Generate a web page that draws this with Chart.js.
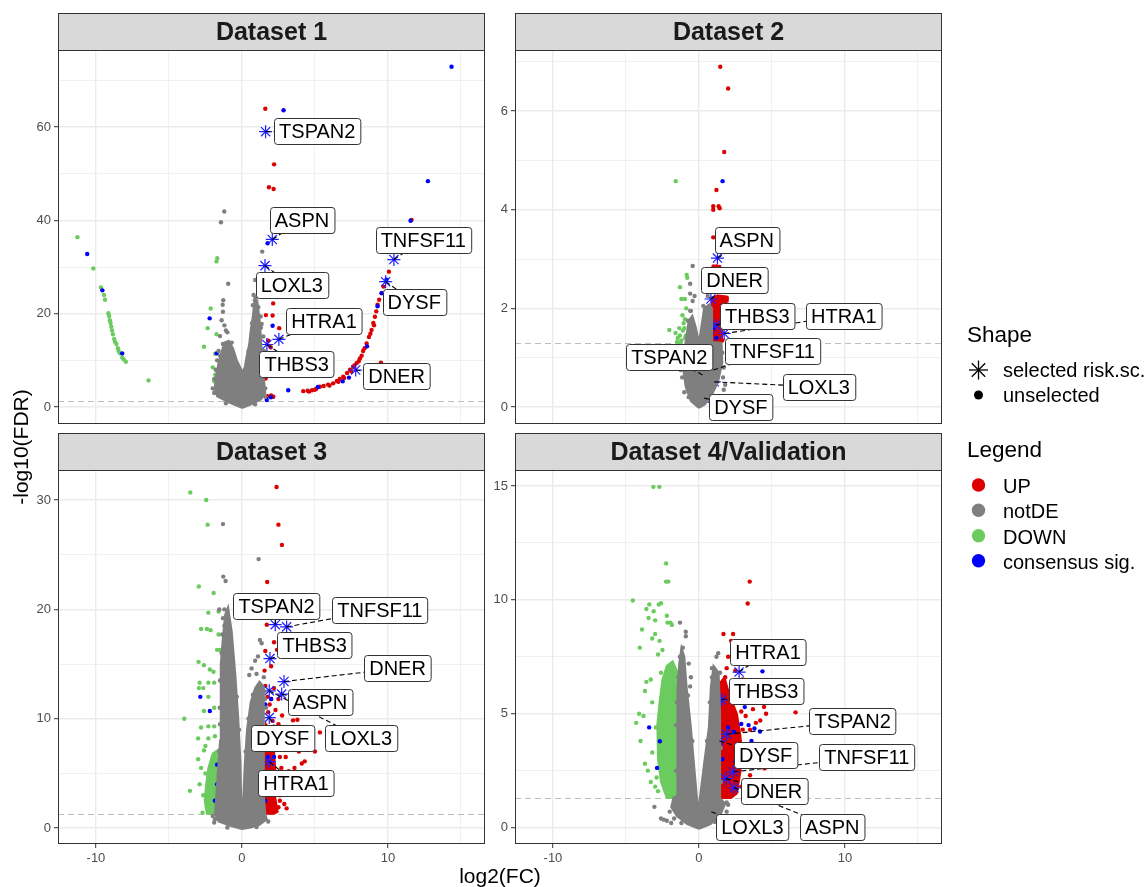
<!DOCTYPE html>
<html>
<head>
<meta charset="utf-8">
<title>Volcano plots</title>
<script src="https://cdn.jsdelivr.net/npm/chart.js@4.4.1/dist/chart.umd.min.js"></script>
<style>
  html, body { margin: 0; padding: 0; background: #fff; }
  #page { position: relative; width: 1148px; height: 887px; overflow: hidden; font-family: "Liberation Sans", Arial, sans-serif; }
  .panel { position: absolute; }
  #overlay { position: absolute; left: 0; top: 0; }
</style>
</head>
<body>
<div id="page">
  <div class="panel" style="left:0;top:13px;width:487px;height:413px"><canvas id="c1"></canvas></div>
  <div class="panel" style="left:457px;top:13px;width:487px;height:413px"><canvas id="c2"></canvas></div>
  <div class="panel" style="left:0;top:433px;width:487px;height:439px"><canvas id="c3"></canvas></div>
  <div class="panel" style="left:457px;top:433px;width:487px;height:439px"><canvas id="c4"></canvas></div>

  <svg id="overlay" width="1148" height="887" font-family="Liberation Sans, Arial, sans-serif">
    <text x="28" y="447" font-size="21" text-anchor="middle" transform="rotate(-90 28 447)">-log10(FDR)</text>
    <text x="500" y="883" font-size="21" text-anchor="middle">log2(FC)</text>

    <text x="967" y="342" font-size="22.5">Shape</text>
    <g stroke="#000" stroke-width="1.3">
      <line x1="969" y1="370" x2="988" y2="370"/>
      <line x1="978.5" y1="360.5" x2="978.5" y2="379.5"/>
      <line x1="971.8" y1="363.3" x2="985.2" y2="376.7"/>
      <line x1="971.8" y1="376.7" x2="985.2" y2="363.3"/>
    </g>
    <text x="1003" y="376.5" font-size="20">selected risk.sc.</text>
    <circle cx="978.5" cy="395" r="4.5" fill="#000"/>
    <text x="1003" y="401.7" font-size="20">unselected</text>

    <text x="967" y="456.7" font-size="22.5">Legend</text>
    <circle cx="978.5" cy="485" r="6.7" fill="#DD0000"/>
    <text x="1003" y="493.3" font-size="20">UP</text>
    <circle cx="978.5" cy="510.3" r="6.7" fill="#7F7F7F"/>
    <text x="1003" y="518.3" font-size="20">notDE</text>
    <circle cx="978.5" cy="535.7" r="6.7" fill="#6CCB5F"/>
    <text x="1003" y="543.6" font-size="20">DOWN</text>
    <circle cx="978.5" cy="560.7" r="6.7" fill="#0000FF"/>
    <text x="1003" y="568.6" font-size="20">consensus sig.</text>
  </svg>
</div>

<script>
// --- Shared axis data ---
const genes = ["TSPAN2", "ASPN", "LOXL3", "TNFSF11", "DYSF", "HTRA1", "THBS3", "DNER"];
const xTicks = [-10, -5, 0, 5, 10, 15];
const xMajor = [-10, 0, 10];
const FDR_LINE = 1.301;

// --- Dataset 1 ---
const d1YTicks = [0, 10, 20, 30, 40, 50, 60, 70];
const d1YMajor = [0, 20, 40, 60];
const d1Up = [[1.6,63.9],[2.2,52.0],[1.85,47.1],[2.17,46.7],[11.62,40.1],[2.14,22.2],[1.64,19.7],[2.1,19.6],[2.55,16.9],[1.8,14.2],[1.97,12.8],[2.2,10.9],[1.62,6.1],[2.0,2.5],[2.15,2.2],[1.75,2.3],[9.52,9.5],
  [4.2,3.4],[4.5,3.5],[4.6,3.3],[4.8,3.6],[5.0,3.7],[5.1,3.9],[5.34,4.35],[5.6,4.5],[5.9,4.8],[6.0,4.6],[6.25,5.07],[6.5,5.6],[6.6,5.4],[6.7,6.0],[6.94,6.5],[7.0,6.2],[7.2,7.3],[7.4,8.0],[7.5,7.6],[7.62,8.6],[7.7,8.9],[7.85,9.4],[8.0,9.8],[8.08,10.4],[8.2,11.0],[8.3,12.0],[8.4,12.6],[8.54,13.6],[8.7,15.0],[8.8,15.7],[8.88,16.5],[9.0,18.0],[9.05,17.5],[9.11,19.35],[9.2,20.5],[9.29,21.9],[9.4,23.0],[9.57,24.4],[9.7,25.8],[10.07,29.0]];
const d1NotDE = [[-1.21,41.9],[-1.44,39.6],[1.39,33.3],[-0.94,26.4],[0.91,27.2],[-1.28,22.9],[-1.32,21.9],[-1.39,18.6],[-1.2,17.5],[-1.1,16.4],[-1.5,15.2],[0.89,22.9],[1.12,21.4],[1.28,19.4],[1.35,17.8],[1.46,15.1],[0.75,21.8],[-1.6,12.0],[-1.7,10.0],[1.5,12.0],[1.55,9.0],[-1.9,6.0],[-2.0,4.0],[1.6,4.0],[-1.0,16.0],[1.0,19.0],[-1.3,20.4],[1.2,24.5],[0.8,24.0],
  [-1.9,3.0],[-1.8,8.0],[-1.5,11.0],[-1.3,13.5],[-0.7,13.8],[0.45,12.0],[0.7,18.0],[0.95,23.5],[1.3,17.0],[1.45,8.0],[1.6,2.2],[-1.1,0.8],[0.9,0.6]];
const d1Down = [[-11.27,36.4],[-10.18,29.7],[-9.66,25.6],[-9.45,24.0],[-9.38,23.0],[-9.15,20.1],[-9.1,19.5],[-9.05,18.6],[-9.0,18.0],[-8.95,17.2],[-8.9,16.4],[-8.84,15.6],[-8.75,14.6],[-8.7,14.0],[-8.6,13.5],[-8.5,12.6],[-8.45,12.0],[-8.35,11.5],[-8.2,10.6],[-8.1,10.2],[-7.95,9.7],[-6.4,5.7],
  [-1.69,31.9],[-1.74,31.2],[-2.14,21.1],[-2.35,16.9],[-1.74,15.6],[-2.6,12.9],[-1.83,11.4],[-1.83,6.9],[-1.76,6.4],[-1.85,3.4],[-1.9,5.5],[-2.0,8.5]];
const d1Cons = [[14.36,72.9],[2.85,63.6],[12.74,48.4],[11.55,39.9],[1.76,35.1],[9.9,27.3],[9.57,24.4],[9.29,21.6],[8.57,13.0],[7.33,6.3],[6.9,5.5],[5.2,4.3],[2.1,17.4],[1.7,1.5],[1.98,2.1],[3.17,3.6],[-10.6,32.8],[-9.56,25.0],[-8.2,11.5],[-2.21,19.0],[-1.73,11.5]];
const d1Core = [[0,-0.2],[-0.9,1.0],[-1.7,2.3],[-1.85,4.5],[-1.75,7.0],[-1.6,9.5],[-1.4,11.8],[-1.2,13.8],[-0.9,14.2],[-0.6,12.5],[-0.35,10],[-0.1,8.4],[0.05,7.5],[0.2,8.6],[0.3,10.5],[0.5,13.5],[0.6,16.5],[0.75,19.5],[0.85,22.5],[1.05,22.8],[1.2,19],[1.3,15],[1.38,10.5],[1.5,6],[1.6,3],[1.3,1.6],[0.6,0.5]];
const d1Stars = [[1.62,59.0],[2.08,35.9],[1.58,30.3],[10.41,31.6],[9.84,26.85],[2.53,14.5],[1.71,13.4],[7.79,7.93]];
const d1Labels = [[5.16,59.1],[4.11,40.1],[3.42,26.1],[12.42,35.8],[11.8,22.6],[5.62,18.4],[3.75,9.14],[10.6,6.64]];

// --- Dataset 2 ---
const d2YTicks = [0, 1, 2, 3, 4, 5, 6, 7];
const d2YMajor = [0, 2, 4, 6];
const d2Up = [[1.46,6.9],[2.0,6.46],[1.73,5.17],[1.2,4.4],[0.98,4.07],[0.98,4.0],[1.35,4.07],[1.42,4.03],[0.98,3.44],[1.0,2.85],[1.1,2.83],[1.2,2.85],[1.3,2.82],[1.4,2.84],[1.5,2.2],[1.7,2.22],[1.9,2.2],[1.6,2.17],[1.8,2.15],[1.05,2.0],[1.55,1.95],[1.6,1.6],[1.5,1.45],[1.6,1.35],[1.2,1.35]];
const d2NotDE = [[-0.43,2.86],[-0.6,2.5],[-0.6,2.3],[-0.43,2.15],[-0.55,1.95],[-0.75,1.75],[-0.3,2.25],[-1.1,1.0],[-1.25,0.75],[1.7,0.8],[1.65,0.6],[1.8,0.45],[-1.0,0.3],[0.6,2.25],
  [-1.15,0.6],[-1.05,1.1],[-0.6,1.95],[0.3,2.05],[1.6,1.1],[1.7,0.35],[-0.7,0.2],[0.9,0.15]];
const d2Down = [[-1.59,4.58],[-0.84,2.68],[-0.8,2.62],[-1.3,2.43],[-0.96,2.19],[-1.2,2.19],[-0.87,2.0],[-1.13,1.86],[-0.96,1.78],[-2.03,1.56],[-1.6,1.5],[-1.45,1.4],[-1.3,1.45],[-1.2,1.35],[-1.1,1.55],[-1.0,1.6],[-0.9,1.45],[-1.35,1.6],[-1.5,1.32],[-1.05,1.7],[-0.95,1.4],[-1.25,1.3]];
const d2Cons = [[1.62,4.58],[0.85,1.5],[1.2,1.4],[1.0,1.6]];
const d2Core = [[0.0,-0.02],[-0.55,0.12],[-0.9,0.4],[-1.1,0.8],[-1.0,1.15],[-0.85,1.45],[-0.7,1.75],[-0.45,1.85],[-0.2,1.6],[0.0,1.3],[0.2,1.7],[0.35,2.0],[0.7,2.08],[0.9,2.0],[0.9,1.32],[1.55,1.3],[1.6,0.9],[1.3,0.5],[0.8,0.2],[0.4,0.05]];
const d2UpCore = [[0.9,1.32],[0.9,2.22],[1.3,2.26],[1.95,2.24],[1.97,2.14],[1.55,2.1],[1.55,1.8],[1.62,1.55],[1.55,1.32]];
const d2Stars = [[0.25,0.65],[1.27,3.02],[1.05,0.51],[0.98,0.75],[0.36,0.18],[1.73,1.49],[1.16,1.66],[0.82,2.19]];
const d2Labels = [[-2.03,1.01],[3.28,3.39],[8.21,0.41],[5.03,1.14],[2.87,0.0],[9.92,1.85],[4.0,1.85],[2.44,2.58]];

// --- Dataset 3 ---
const d3YTicks = [0, 5, 10, 15, 20, 25, 30];
const d3YMajor = [0, 10, 20, 30];
const d3Up = [[2.37,31.2],[2.5,27.75],[2.74,25.9],[1.73,22.5],[1.7,18.6],[2.2,17.0],[2.6,16.8],[1.6,16.2],[2.4,16.3],[2.0,14.8],[1.55,14.4],[2.2,12.8],[2.5,11.8],[1.9,11.3],[2.3,10.8],[2.75,10.3],[3.8,9.9],[3.5,9.85],[2.5,9.5],[2.9,9.0],[5.34,8.75],[5.0,7.0],[4.5,7.5],[3.9,7.0],[4.1,5.9],[4.3,6.1],[3.6,5.5],[3.2,5.2],[2.9,5.0],[3.0,6.5],[2.7,7.8],[2.1,8.3],[3.06,1.8],[2.5,1.9],[2.1,2.0],[2.6,2.5],[2.85,3.2],[2.3,4.5],
  [1.6,13.0],[1.75,12.0],[2.0,11.8],[1.8,10.6],[2.1,9.8],[2.4,9.0],[1.6,8.5],[2.3,8.0],[2.6,6.5],[2.0,6.0],[2.7,5.5],[2.5,4.5],[2.7,3.5],[2.6,3.0],[2.9,2.2],[2.0,1.6]];
const d3NotDE = [[-1.3,27.8],[1.14,24.6],[-1.28,23.0],[-1.12,22.6],[-1.55,20.0],[-1.2,20.0],[-1.3,19.2],[-1.2,18.5],[-1.35,17.7],[-1.1,17.2],[-0.9,16.4],[-0.8,15.8],[1.23,17.2],[1.35,16.9],[0.66,14.6],[0.9,15.3],[1.1,15.7],[0.5,14.0],[1.0,14.1],[1.5,13.8],[1.55,12.5],[1.65,11.0],
  [-1.55,3.0],[-1.6,5.0],[-1.55,7.0],[-1.5,9.5],[-1.52,11.0],[-1.5,13.5],[-1.4,16.0],[-1.85,0.8],[-2.0,1.1],[-0.35,12.0],[-0.2,9.0],[0.25,7.0],[0.45,10.0],[0.75,12.2],[1.55,5.0],[1.6,9.0],[1.58,11.8],[-1.0,0.05],[1.0,0.1],[1.8,0.6],[-1.9,0.5]];
const d3Down = [[-3.54,30.7],[-2.45,30.0],[-2.35,27.75],[-2.95,22.1],[-1.94,21.5],[-2.3,19.7],[-1.6,19.8],[-2.8,18.2],[-2.4,18.2],[-2.15,18.1],[-1.6,17.7],[-1.7,16.3],[-1.5,16.3],[-2.97,15.2],[-2.6,14.9],[-2.2,14.5],[-1.95,14.3],[-2.9,13.3],[-2.3,13.3],[-1.9,13.3],[-2.95,12.8],[-2.65,12.8],[-2.3,12.0],[-1.9,11.0],[-2.6,10.7],[-3.95,10.0],[-2.8,9.2],[-2.3,9.3],[-1.9,9.3],[-3.0,8.2],[-2.3,8.2],[-1.85,8.4],[-2.6,7.1],[-2.0,6.5],[-3.56,3.4],[-2.8,5.5],[-2.5,5.0],[-2.9,4.0],[-2.65,3.0],[-2.4,2.0],[-2.7,1.4],[-2.1,2.5],[-3.0,6.3],[-2.5,7.5]];
const d3Cons = [[-2.85,12.0],[-2.2,10.7],[-1.7,5.8],[-1.7,4.0],[-1.85,2.5],[1.6,11.3],[2.0,11.8],[2.2,6.5],[1.6,2.5],[1.8,6.5]];
const d3Core = [[0,-0.1],[-0.8,0.2],[-1.6,0.6],[-1.85,1.3],[-1.7,4],[-1.5,8],[-1.45,12],[-1.45,15],[-1.3,17.5],[-1.15,19.5],[-0.95,20.2],[-0.7,18],[-0.45,14],[-0.25,10],[-0.1,6],[-0.05,2.5],[0.0,1.6],[0.1,3],[0.2,6],[0.35,9],[0.6,11.5],[0.9,12.8],[1.2,13.4],[1.45,13],[1.5,8],[1.5,3],[1.6,1.3],[1.7,0.8],[1.2,0.3],[0.6,0.05]];
const d3UpCore = [[1.5,1.3],[1.5,7.5],[1.65,9.5],[1.9,9.0],[2.2,7.0],[2.3,5.0],[2.25,3.0],[2.45,1.5],[2.2,1.3]];
const d3DownCore = [[-1.45,1.3],[-2.4,1.3],[-2.55,2.5],[-2.45,4.0],[-2.3,5.5],[-2.0,6.8],[-1.6,7.2],[-1.45,6.5]];
const d3Stars = [[2.28,18.6],[2.72,12.25],[1.87,12.55],[3.06,18.4],[1.87,10.1],[1.87,6.07],[1.92,15.5],[2.88,13.4]];
const d3Labels = [[2.37,20.35],[5.34,11.5],[8.15,8.2],[9.45,19.95],[2.79,8.2],[3.7,4.1],[4.98,16.7],[10.66,14.6]];

// --- Dataset 4/Validation ---
const d4YTicks = [0, 2.5, 5, 7.5, 10, 12.5, 15];
const d4YMajor = [0, 5, 10, 15];
const d4Up = [[3.48,10.8],[3.34,9.84],[1.68,8.5],[2.34,8.5],[2.2,8.2],[2.0,7.5],[1.9,7.0],[2.5,6.9],[3.0,6.5],[2.2,6.3],[1.8,6.6],[3.3,6.0],[4.46,5.3],[4.6,5.0],[6.62,5.06],[3.7,5.2],[3.2,4.9],[2.9,5.1],[3.9,4.6],[4.2,4.7],[3.5,4.3],[2.6,5.6],[3.0,4.3],[2.8,3.8],[4.0,3.5],[3.3,3.6],[4.5,2.6],[3.1,2.7],[3.5,2.3],[2.9,1.8],[3.2,3.0]];
const d4NotDE = [[-1.3,9.0],[-0.9,8.6],[-0.9,8.4],[-1.1,7.9],[1.32,7.66],[1.2,7.5],[0.89,7.0],[-0.7,7.2],[-0.55,6.6],[-3.05,0.91],[-2.6,0.4],[-2.4,0.35],[-2.2,0.3],[-1.9,0.2],[-0.6,6.2],[1.45,6.8],[2.0,1.0],[1.9,0.7],
  [-1.55,2.5],[-1.55,4.5],[-1.5,5.5],[-1.4,6.6],[-1.3,7.5],[-0.75,5.8],[-0.45,3.8],[0.55,3.8],[0.75,5.5],[0.9,6.6],[1.5,3.5],[1.5,2.0],[-2.0,0.7],[-1.7,0.4],[1.6,0.5],[1.9,1.1],[-1.2,0.2],[1.1,0.25]];
const d4Down = [[-3.12,14.96],[-2.71,14.96],[-2.25,11.6],[-2.1,10.8],[-2.25,10.8],[-4.53,9.97],[-3.4,9.8],[-2.75,9.8],[-2.6,9.85],[-3.6,9.6],[-3.1,9.5],[-3.45,9.2],[-3.0,9.1],[-2.2,9.3],[-2.15,9.0],[-1.95,9.0],[-1.85,8.9],[-3.9,8.7],[-3.2,8.3],[-2.7,8.2],[-3.0,8.5],[-4.05,7.9],[-2.8,7.6],[-2.5,7.8],[-3.3,6.5],[-3.6,6.4],[-3.7,6.0],[-4.1,5.0],[-4.3,4.6],[-3.8,4.9],[-3.2,5.5],[-4.0,3.8],[-3.7,2.8],[-3.5,2.5],[-3.2,3.3],[-3.0,1.8],[-2.8,1.6],[-3.3,2.0],[-2.95,4.4],[-2.6,6.8],[-2.9,2.2]];
const d4Cons = [[4.35,6.86],[3.14,5.29],[4.18,4.22],[3.8,4.35],[3.4,4.5],[2.9,4.55],[2.4,4.2],[2.0,4.4],[3.6,3.8],[-3.41,4.4],[-2.68,3.79],[-2.87,2.62],[1.6,3.0],[2.5,2.9]];
const d4Core = [[0,-0.05],[-0.8,0.15],[-1.5,0.5],[-1.9,0.9],[-1.75,1.3],[-1.5,1.4],[-1.5,4.0],[-1.45,6.0],[-1.35,7.2],[-1.2,7.9],[-1.0,7.5],[-0.85,6.2],[-0.55,4.4],[-0.3,2.5],[-0.05,0.7],[0.1,1.5],[0.35,2.8],[0.68,4.4],[0.82,6.2],[1.0,7.1],[1.35,6.8],[1.45,5.0],[1.45,1.3],[1.8,1.05],[1.5,0.6],[0.8,0.15]];
const d4UpCore = [[1.5,1.3],[1.5,6.4],[1.75,6.6],[2.1,5.8],[2.6,5.0],[2.85,4.0],[2.85,2.5],[2.6,1.5],[2.2,1.3]];
const d4DownCore = [[-1.45,1.3],[-2.2,1.3],[-2.6,2.0],[-2.8,3.0],[-2.85,4.5],[-2.7,5.5],[-2.5,6.5],[-2.2,7.1],[-1.8,7.3],[-1.45,6.8]];
const d4Stars = [[1.9,4.1],[2.4,1.75],[0.85,0.7],[2.35,2.45],[1.4,3.8],[2.75,6.83],[1.55,5.61],[1.84,2.15]];
const d4Labels = [[10.53,4.66],[9.13,0.03],[3.66,0.03],[11.5,3.08],[4.57,3.2],[4.73,7.7],[4.6,6.0],[5.14,1.62]];

const COLORS = { up: "#DD0000", notDE: "#7F7F7F", down: "#6CCB5F", cons: "#0000FF", star: "#1E1EFF" };
const FONT = '"Liberation Sans", Arial, sans-serif';

const PANELS = [
  { canvas: "c1", title: "Dataset 1", bottomRow: false, yMin: -3.64, yMax: 76.5, yTicks: d1YTicks, yMajor: d1YMajor,
    up: d1Up, notDE: d1NotDE, down: d1Down, cons: d1Cons, core: d1Core, upCore: null, downCore: null, stars: d1Stars, labels: d1Labels },
  { canvas: "c2", title: "Dataset 2", bottomRow: false, yMin: -0.345, yMax: 7.24, yTicks: d2YTicks, yMajor: d2YMajor,
    up: d2Up, notDE: d2NotDE, down: d2Down, cons: d2Cons, core: d2Core, upCore: d2UpCore, downCore: null, stars: d2Stars, labels: d2Labels },
  { canvas: "c3", title: "Dataset 3", bottomRow: true, yMin: -1.46, yMax: 32.75, yTicks: d3YTicks, yMajor: d3YMajor,
    up: d3Up, notDE: d3NotDE, down: d3Down, cons: d3Cons, core: d3Core, upCore: d3UpCore, downCore: d3DownCore, stars: d3Stars, labels: d3Labels },
  { canvas: "c4", title: "Dataset 4/Validation", bottomRow: true, yMin: -0.72, yMax: 15.7, yTicks: d4YTicks, yMajor: d4YMajor,
    up: d4Up, notDE: d4NotDE, down: d4Down, cons: d4Cons, core: d4Core, upCore: d4UpCore, downCore: d4DownCore, stars: d4Stars, labels: d4Labels },
];

const toXY = arr => arr.map(p => ({ x: p[0], y: p[1] }));

function dotSet(data, color, order) {
  return { type: "scatter", data: toXY(data), backgroundColor: color, borderWidth: 0, pointRadius: 2.2, order };
}

// dense clouds are traced as outlines
function cloudSet(data, color, order) {
  return { type: "line", data: toXY(data.concat([data[0]])), borderColor: color, backgroundColor: color,
    borderWidth: 2, pointRadius: 0, tension: 0, fill: "shape", order };
}

function makeDeco(cfg) {
  return {
    id: "deco",
    beforeDatasetsDraw(chart) {
      const { ctx, chartArea: a, scales: { y } } = chart;
      const yy = Math.round(y.getPixelForValue(FDR_LINE)) + 0.5;
      ctx.save();
      ctx.strokeStyle = "#BDBDBD";
      ctx.lineWidth = 1;
      ctx.setLineDash([6, 4]);
      ctx.beginPath(); ctx.moveTo(a.left, yy); ctx.lineTo(a.right, yy); ctx.stroke();
      ctx.restore();
    },
    afterDatasetsDraw(chart) {
      const { ctx, scales: { x, y } } = chart;
      ctx.save();
      ctx.font = "20px " + FONT;
      const boxes = genes.map((g, i) => ({
        g,
        px: x.getPixelForValue(cfg.stars[i][0]), py: y.getPixelForValue(cfg.stars[i][1]),
        lx: x.getPixelForValue(cfg.labels[i][0]), ly: y.getPixelForValue(cfg.labels[i][1]),
        w: ctx.measureText(g).width + 10, h: 26,
      }));
      // segments
      ctx.strokeStyle = "#000";
      ctx.lineWidth = 1.1;
      ctx.setLineDash([5, 3]);
      boxes.forEach(b => { ctx.beginPath(); ctx.moveTo(b.px, b.py); ctx.lineTo(b.lx, b.ly); ctx.stroke(); });
      // label boxes
      ctx.setLineDash([]);
      boxes.forEach(b => {
        const bx = Math.round(b.lx - b.w / 2) + 0.5, by = Math.round(b.ly - b.h / 2) + 0.5;
        ctx.beginPath();
        ctx.roundRect(bx, by, b.w, b.h, 3);
        ctx.fillStyle = "#fff"; ctx.fill();
        ctx.strokeStyle = "#333"; ctx.lineWidth = 1; ctx.stroke();
        ctx.fillStyle = "#000";
        ctx.textAlign = "center";
        ctx.textBaseline = "alphabetic";
        ctx.fillText(b.g, b.lx, b.ly + 7);
      });
      ctx.restore();
    },
    afterDraw(chart) {
      const { ctx, chartArea: a } = chart;
      ctx.save();
      // strip
      ctx.fillStyle = "#D9D9D9";
      ctx.fillRect(a.left, a.top - 37, a.right - a.left, 37);
      ctx.strokeStyle = "#333";
      ctx.lineWidth = 1;
      ctx.strokeRect(a.left + 0.5, a.top - 37 + 0.5, a.right - a.left - 1, 37);
      ctx.fillStyle = "#1A1A1A";
      ctx.font = "bold 25px " + FONT;
      ctx.textAlign = "center";
      ctx.textBaseline = "alphabetic";
      ctx.fillText(cfg.title, (a.left + a.right) / 2, a.top - 37 + 27);
      // panel border
      ctx.strokeRect(a.left + 0.5, a.top + 0.5, a.right - a.left - 1, a.bottom - a.top - 1);
      ctx.restore();
    },
  };
}

function axisGrid(major, showTicks) {
  return {
    color: "#EBEBEB",
    lineWidth: c => (major.includes(c.tick.value) ? 1.4 : 0.7),
    drawTicks: showTicks,
    tickLength: 4,
    tickWidth: 1,
    tickColor: c => (major.includes(c.tick.value) ? "#333" : "rgba(0,0,0,0)"),
  };
}

function axisTicks(major, show) {
  return {
    display: show, padding: 3, color: "#4D4D4D", autoSkip: false, maxRotation: 0,
    font: { family: FONT, size: 13 },
    callback: v => (major.includes(v) ? String(v) : ""),
  };
}

function renderPanel(cfg) {
  const datasets = [];
  if (cfg.downCore) datasets.push(cloudSet(cfg.downCore, COLORS.down, 9));
  if (cfg.upCore) datasets.push(cloudSet(cfg.upCore, COLORS.up, 8));
  datasets.push(dotSet(cfg.down, COLORS.down, 7));
  datasets.push(dotSet(cfg.up, COLORS.up, 6));
  datasets.push(dotSet(cfg.cons, COLORS.cons, 5));
  datasets.push({ type: "scatter", data: toXY(cfg.stars), pointStyle: "star", pointRadius: 6.5,
    borderColor: COLORS.star, borderWidth: 1.2, backgroundColor: "rgba(0,0,0,0)", order: 4 });
  datasets.push(cloudSet(cfg.core, COLORS.notDE, 3));
  datasets.push(dotSet(cfg.notDE, COLORS.notDE, 2));

  new Chart(document.getElementById(cfg.canvas), {
    type: "scatter",
    data: { datasets },
    options: {
      responsive: true, maintainAspectRatio: false, animation: false, events: [],
      layout: { autoPadding: false, padding: { top: 37, right: 2, bottom: 2, left: 0 } },
      plugins: { legend: { display: false }, tooltip: { enabled: false } },
      scales: {
        x: {
          type: "linear", min: -12.6, max: 16.65,
          afterBuildTicks: s => { s.ticks = xTicks.map(v => ({ value: v })); },
          afterFit: s => { s.height = cfg.bottomRow ? 26 : 0; s.paddingLeft = 0; s.paddingRight = 0; },
          border: { display: false },
          grid: axisGrid(xMajor, cfg.bottomRow),
          ticks: axisTicks(xMajor, cfg.bottomRow),
        },
        y: {
          type: "linear", min: cfg.yMin, max: cfg.yMax,
          afterBuildTicks: s => { s.ticks = cfg.yTicks.map(v => ({ value: v })); },
          afterFit: s => { s.width = 58; s.paddingTop = 0; s.paddingBottom = 0; },
          border: { display: false },
          grid: axisGrid(cfg.yMajor, true),
          ticks: axisTicks(cfg.yMajor, true),
        },
      },
    },
    plugins: [makeDeco(cfg)],
  });
}

PANELS.forEach(renderPanel);
</script>
</body>
</html>
